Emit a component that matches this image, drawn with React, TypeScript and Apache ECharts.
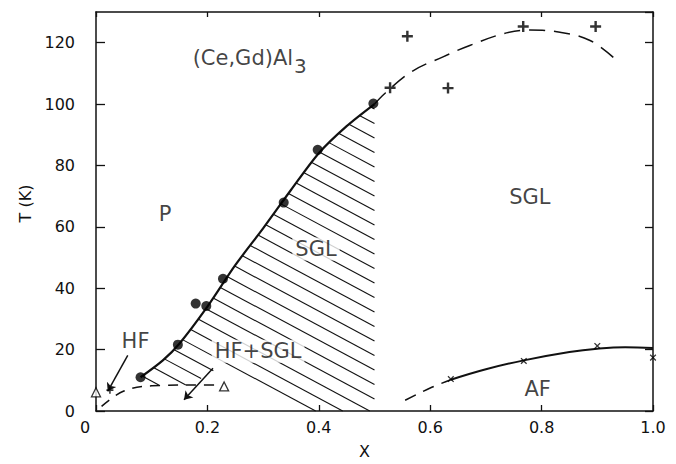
import React, { useEffect, useRef } from "react";
import * as echarts from "echarts";

const FONT = "DejaVu Sans";
const INK = "#111";

// ---- data (x, T in K) ----
const sglBoundary = [[0.08, 11], [0.12, 16.5], [0.15, 22], [0.2, 34], [0.25, 47.5], [0.3, 59.5], [0.35, 72], [0.4, 84], [0.45, 92.8], [0.5, 100]];
const sglUpperDashed = [[0.5, 100], [0.52, 103.7], [0.567, 110.6], [0.623, 115.4], [0.671, 119.1], [0.737, 123.2], [0.779, 124.1], [0.833, 123.4], [0.887, 120.7], [0.93, 115]];
const hfDashed = [[0.01, 1.5], [0.05, 6.5], [0.1, 8.2], [0.2, 8.5], [0.22, 8.5]];
const afDashed = [[0.555, 3.5], [0.6, 7.5], [0.637, 10.2]];
const afSolid = [[0.637, 10.2], [0.7, 13.6], [0.768, 16.5], [0.85, 19.2], [0.9, 20.3], [0.95, 20.8], [1.0, 20.5]];
const sglPoints = [[0.08, 11], [0.147, 21.6], [0.179, 35], [0.198, 34.2], [0.228, 43.1], [0.337, 67.9], [0.398, 85.1], [0.498, 100.2]];
const plusPoints = [[0.528, 105.3], [0.559, 122.1], [0.632, 105.2], [0.767, 125.3], [0.897, 125.3]];
const crossPoints = [[0.637, 10.4], [0.768, 16.3], [0.9, 21.2], [1.0, 17.4]];
const trianglePoints = [[0, 6.1], [0.23, 8]];
const hfPoint = [[0.025, 6.8]];
const hatchLowerEdge = [[0.5, 0], [0.385, 0], [0.225, 13.5], [0.205, 13], [0.175, 8.5], [0.08, 8.5]];
const hatchAnchor = [0.235, 15.5];
const arrows = [
  { from: [0.057, 18.1], to: [0.021, 6.4] },
  { from: [0.21, 13.9], to: [0.158, 3.7] },
];
const regionLabels = [
  { name: "P", at: [0.124, 64.3], boxed: false },
  { name: "SGL", at: [0.395, 52.8], boxed: true },
  { name: "SGL", at: [0.779, 69.7], boxed: false },
  { name: "HF+SGL", at: [0.291, 19.5], boxed: true },
  { name: "HF", at: [0.071, 22.8], boxed: false },
  { name: "AF", at: [0.793, 7.2], boxed: false },
];
const titleLabel = { main: "(Ce,Gd)Al", sub: "3", at: [0.276, 115] };
const xTicks = [0, 0.2, 0.4, 0.6, 0.8, 1.0];
const yTicks = [0, 20, 40, 60, 80, 100, 120];

const PLUS = "path://M3.9,0H6.1V3.9H10V6.1H6.1V10H3.9V6.1H0V3.9H3.9Z";
const CROSS = "path://M4.2,0H5.8V4.2H10V5.8H5.8V10H4.2V5.8H0V4.2H4.2Z";

export default function App() {
  const ref = useRef<HTMLDivElement>(null);
  useEffect(() => {
    if (!ref.current) return;
    const chart = echarts.init(ref.current, undefined, { renderer: "svg" });
    const hatchPolygon = [...sglBoundary, ...hatchLowerEdge];
    const axisLine = { show: true, onZero: false, lineStyle: { color: INK, width: 1.5 } };
    const labelStyle = { fontFamily: FONT, fontSize: 16, color: INK };
    const option: any = {
      animation: false,
      backgroundColor: "#fff",
      grid: { left: 96, right: 23, top: 12, bottom: 46 },
      xAxis: [
        {
          type: "value", min: xTicks[0], max: xTicks[xTicks.length - 1], interval: 0.2, position: "bottom",
          axisLine, splitLine: { show: false },
          axisTick: { inside: true, length: 6, lineStyle: { color: INK, width: 1.3 } },
          axisLabel: {
            ...labelStyle, margin: 8,
            formatter: (v: number) => (Math.abs(v) < 1e-9 ? "{z|0}" : v.toFixed(1)),
            rich: { z: { ...labelStyle, padding: [0, 22, 0, 0] } },
          },
          name: "X", nameLocation: "middle", nameGap: 32,
          nameTextStyle: { ...labelStyle, padding: [0, 20, 0, 0] },
        },
        {
          type: "value", min: 0, max: 1, interval: 0.2, position: "top",
          axisLine, splitLine: { show: false }, axisLabel: { show: false },
          axisTick: { inside: true, length: 5, lineStyle: { color: INK, width: 1.3 } },
        },
      ],
      yAxis: [
        {
          type: "value", min: yTicks[0], max: 130, interval: 20, position: "left",
          axisLine, splitLine: { show: false },
          axisTick: { inside: true, length: 9, lineStyle: { color: INK, width: 1.3 } },
          axisLabel: { ...labelStyle, margin: 21, showMaxLabel: false, padding: [0, 0, 8, 0],
            formatter: (v: number) => (yTicks.includes(v) ? String(v) : "") },
          name: "T (K)", nameLocation: "middle", nameGap: 63, nameRotate: 90,
          nameTextStyle: { ...labelStyle, padding: [0, 0, 0, 16] },
        },
        {
          type: "value", min: 0, max: 130, interval: 20, position: "right",
          axisLine, splitLine: { show: false }, axisLabel: { show: false },
          axisTick: { inside: true, length: 8, lineStyle: { color: INK, width: 1.3 } },
        },
      ],
      series: [
        {
          type: "custom", name: "hatch", silent: true, clip: false, z: 1,
          data: [[0, 0]],
          renderItem: (_p: any, api: any) => {
            const poly = hatchPolygon.map((p) => api.coord(p));
            const a = api.coord(hatchAnchor);
            const m = 0.536, gap = 14.5;
            const c0 = a[1] - m * a[0];
            let cmin = Infinity, cmax = -Infinity;
            poly.forEach((p: number[]) => { const c = p[1] - m * p[0]; cmin = Math.min(cmin, c); cmax = Math.max(cmax, c); });
            const children: any[] = [];
            const k0 = Math.ceil((cmin - c0) / gap), k1 = Math.floor((cmax - c0) / gap);
            for (let k = k0; k <= k1; k++) {
              const c = c0 + k * gap;
              const xs: number[] = [];
              for (let i = 0; i < poly.length; i++) {
                const p1 = poly[i], p2 = poly[(i + 1) % poly.length];
                const f1 = p1[1] - m * p1[0] - c, f2 = p2[1] - m * p2[0] - c;
                if ((f1 < 0) !== (f2 < 0)) {
                  const t = f1 / (f1 - f2);
                  xs.push(p1[0] + t * (p2[0] - p1[0]));
                }
              }
              xs.sort((u, v) => u - v);
              for (let j = 0; j + 1 < xs.length; j += 2) {
                children.push({
                  type: "line",
                  shape: { x1: xs[j], y1: m * xs[j] + c, x2: xs[j + 1], y2: m * xs[j + 1] + c },
                  style: { stroke: INK, lineWidth: 1.1 },
                });
              }
            }
            return { type: "group", children };
          },
        },
        { type: "line", data: sglBoundary, smooth: 0.3, showSymbol: false, lineStyle: { color: INK, width: 2.2 }, z: 2 },
        { type: "line", data: sglUpperDashed, smooth: 0.4, showSymbol: false, lineStyle: { color: INK, width: 1.5, type: [16, 9] }, z: 2 },
        { type: "line", data: hfDashed, smooth: 0.4, showSymbol: false, lineStyle: { color: INK, width: 1.5, type: [10, 8] }, z: 2 },
        { type: "line", data: afDashed, smooth: 0.3, showSymbol: false, lineStyle: { color: INK, width: 1.5, type: [12, 8] }, z: 2 },
        { type: "line", data: afSolid, smooth: 0.4, showSymbol: false, lineStyle: { color: INK, width: 2 }, z: 2 },
        {
          type: "lines", coordinateSystem: "cartesian2d", z: 2,
          symbol: ["none", "arrow"], symbolSize: 8,
          lineStyle: { color: INK, width: 1.5, opacity: 1 },
          data: arrows.map((a) => ({ coords: [a.from, a.to] })),
        },
        { type: "scatter", data: sglPoints, symbol: "circle", symbolSize: 10, itemStyle: { color: "#000" }, z: 3, clip: false },
        { type: "scatter", data: plusPoints, symbol: PLUS, symbolSize: 11, itemStyle: { color: "#000" }, z: 3, clip: false },
        { type: "scatter", data: crossPoints, symbol: CROSS, symbolSize: 8, symbolRotate: 45, itemStyle: { color: "#000" }, z: 3, clip: false },
        { type: "scatter", data: hfPoint, symbol: PLUS, symbolSize: 7, itemStyle: { color: "#000" }, z: 3, clip: false },
        {
          type: "scatter", data: trianglePoints, symbol: "triangle", symbolSize: 9, clip: false, z: 3,
          itemStyle: { color: "#fff", borderColor: "#000", borderWidth: 1.3 },
        },
        {
          type: "scatter", z: 4, clip: false, symbolSize: 1, itemStyle: { color: "rgba(0,0,0,0)" },
          data: [
            ...regionLabels.map((l) => ({
              value: l.at, name: l.name,
              label: {
                show: true, position: "inside", formatter: "{b}",
                fontFamily: FONT, fontSize: 21, color: INK,
                backgroundColor: l.boxed ? "#fff" : "transparent", padding: l.boxed ? [1, 3] : 0,
              },
            })),
            {
              value: titleLabel.at, name: titleLabel.main,
              label: {
                show: true, position: "inside",
                formatter: `{a|${titleLabel.main}}{b|${titleLabel.sub}}`,
                rich: {
                  a: { fontFamily: FONT, fontSize: 21, color: INK },
                  b: { fontFamily: FONT, fontSize: 20, color: INK, padding: [16, 0, 0, 1] },
                },
              },
            },
          ],
        },
      ],
    };
    chart.setOption(option);
    return () => chart.dispose();
  }, []);
  return <div ref={ref} style={{ position: "fixed", left: 0, top: 0, width: 676, height: 464, background: "#fff" }} />;
}
